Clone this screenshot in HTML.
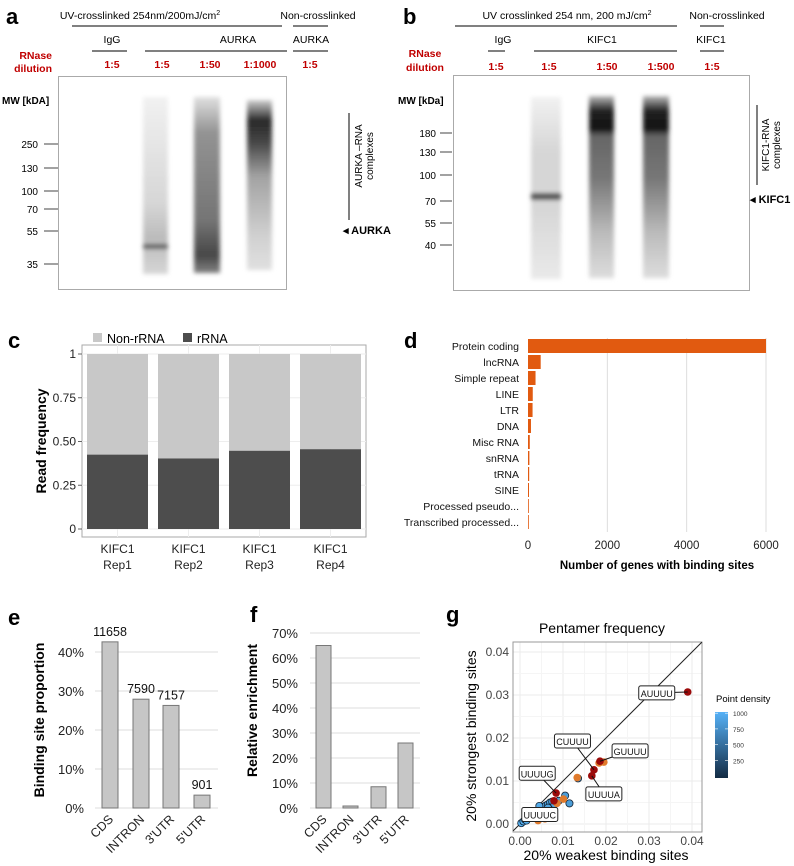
<!DOCTYPE html>
<html><head><meta charset="utf-8">
<style>
html,body{margin:0;padding:0;background:#fff;}
svg{display:block;font-family:"Liberation Sans",Arial,sans-serif;}
</style></head>
<body>
<svg id="fig" width="794" height="866" viewBox="0 0 794 866" xmlns="http://www.w3.org/2000/svg">
<defs>
<filter id="blur" x="-30%" y="-10%" width="160%" height="120%"><feGaussianBlur stdDeviation="2.2"/></filter>
<linearGradient id="laneA1" x1="0" y1="0" x2="0" y2="1">
<stop offset="0" stop-color="#eee"/><stop offset="0.6" stop-color="#ccc"/><stop offset="0.8" stop-color="#aaa"/><stop offset="1" stop-color="#ccc"/></linearGradient>
<linearGradient id="laneA2" x1="0" y1="0" x2="0" y2="1">
<stop offset="0" stop-color="#ddd"/><stop offset="0.2" stop-color="#888"/><stop offset="0.7" stop-color="#666"/><stop offset="0.9" stop-color="#333"/><stop offset="1" stop-color="#777"/></linearGradient>
<linearGradient id="laneA3" x1="0" y1="0" x2="0" y2="1">
<stop offset="0" stop-color="#ccc"/><stop offset="0.12" stop-color="#111"/><stop offset="0.25" stop-color="#333"/><stop offset="0.45" stop-color="#999"/><stop offset="0.8" stop-color="#ccc"/><stop offset="1" stop-color="#ddd"/></linearGradient>
<linearGradient id="laneB1" x1="0" y1="0" x2="0" y2="1">
<stop offset="0" stop-color="#eee"/><stop offset="0.3" stop-color="#ccc"/><stop offset="0.6" stop-color="#ccc"/><stop offset="1" stop-color="#e4e4e4"/></linearGradient>
<linearGradient id="laneB2" x1="0" y1="0" x2="0" y2="1">
<stop offset="0" stop-color="#bbb"/><stop offset="0.08" stop-color="#222"/><stop offset="0.18" stop-color="#111"/><stop offset="0.22" stop-color="#666"/><stop offset="0.45" stop-color="#777"/><stop offset="0.75" stop-color="#bbb"/><stop offset="1" stop-color="#ddd"/></linearGradient>
</defs>

<!-- Panel a -->
<g>
<text x="6" y="24" font-size="22" font-weight="bold">a</text>
<text x="140" y="19" font-size="10.5" text-anchor="middle">UV-crosslinked 254nm/200mJ/cm<tspan dy="-4" font-size="7">2</tspan></text>
<text x="318" y="19" font-size="10.5" text-anchor="middle">Non-crosslinked</text>
<line x1="72" y1="26" x2="282" y2="26" stroke="#000"/>
<line x1="293" y1="26" x2="328" y2="26" stroke="#000"/>
<text x="112" y="43" font-size="10.5" text-anchor="middle">IgG</text>
<text x="238" y="43" font-size="10.5" text-anchor="middle">AURKA</text>
<text x="311" y="43" font-size="10.5" text-anchor="middle">AURKA</text>
<line x1="92" y1="51" x2="127" y2="51" stroke="#555" stroke-width="1.5"/>
<line x1="145" y1="51" x2="287" y2="51" stroke="#000"/>
<line x1="293" y1="51" x2="328" y2="51" stroke="#000"/>
<g fill="#c00000" font-weight="bold" font-size="10.5">
<text x="52" y="59" text-anchor="end">RNase</text><text x="52" y="72" text-anchor="end">dilution</text>
<text x="112" y="68" text-anchor="middle">1:5</text><text x="162" y="68" text-anchor="middle">1:5</text><text x="210" y="68" text-anchor="middle">1:50</text><text x="260" y="68" text-anchor="middle">1:1000</text><text x="310" y="68" text-anchor="middle">1:5</text>
</g>
<rect x="58.5" y="76.5" width="228" height="213" fill="#fff" stroke="#aaa"/>
<text x="2" y="104" font-size="10" font-weight="bold">MW [kDA]</text>
<g font-size="10" text-anchor="end">
<text x="38" y="148">250</text><line x1="44" y1="144" x2="58" y2="144" stroke="#444"/>
<text x="38" y="172">130</text><line x1="44" y1="168" x2="58" y2="168" stroke="#444"/>
<text x="38" y="195">100</text><line x1="44" y1="191" x2="58" y2="191" stroke="#444"/>
<text x="38" y="213">70</text><line x1="44" y1="209" x2="58" y2="209" stroke="#444"/>
<text x="38" y="235">55</text><line x1="44" y1="231" x2="58" y2="231" stroke="#444"/>
<text x="38" y="268">35</text><line x1="44" y1="264" x2="58" y2="264" stroke="#444"/>
</g>
<g filter="url(#blur)">
<rect x="143" y="97" width="25" height="177" fill="url(#laneA1)" opacity="0.8"/>
<rect x="143" y="244" width="25" height="5" fill="#666"/>
<rect x="194" y="97" width="26" height="176" fill="url(#laneA2)" opacity="0.9"/>
<rect x="247" y="100" width="25" height="170" fill="url(#laneA3)" opacity="0.9"/>
</g>
<line x1="349" y1="113" x2="349" y2="220" stroke="#000"/>
<text transform="translate(362,156) rotate(-90)" font-size="10" text-anchor="middle">AURKA –RNA</text>
<text transform="translate(373,156) rotate(-90)" font-size="10" text-anchor="middle">complexes</text>
<text x="343" y="234" font-size="11" font-weight="bold">◂ AURKA</text>
</g>

<!-- Panel b -->
<g>
<text x="403" y="24" font-size="22" font-weight="bold">b</text>
<text x="567" y="19" font-size="10.5" text-anchor="middle">UV crosslinked 254 nm, 200 mJ/cm<tspan dy="-4" font-size="7">2</tspan></text>
<text x="727" y="19" font-size="10.5" text-anchor="middle">Non-crosslinked</text>
<line x1="455" y1="26" x2="677" y2="26" stroke="#000"/>
<line x1="700" y1="26" x2="724" y2="26" stroke="#000"/>
<text x="503" y="43" font-size="10.5" text-anchor="middle">IgG</text>
<text x="602" y="43" font-size="10.5" text-anchor="middle">KIFC1</text>
<text x="711" y="43" font-size="10.5" text-anchor="middle">KIFC1</text>
<line x1="488" y1="51" x2="505" y2="51" stroke="#000"/>
<line x1="534" y1="51" x2="677" y2="51" stroke="#000"/>
<line x1="700" y1="51" x2="724" y2="51" stroke="#000"/>
<g fill="#c00000" font-weight="bold" font-size="10.5">
<text x="425" y="57" text-anchor="middle">RNase</text><text x="425" y="71" text-anchor="middle">dilution</text>
<text x="496" y="70" text-anchor="middle">1:5</text><text x="549" y="70" text-anchor="middle">1:5</text><text x="607" y="70" text-anchor="middle">1:50</text><text x="661" y="70" text-anchor="middle">1:500</text><text x="712" y="70" text-anchor="middle">1:5</text>
</g>
<rect x="453.5" y="75.5" width="296" height="215" fill="#fff" stroke="#aaa"/>
<text x="398" y="104" font-size="10" font-weight="bold">MW [kDa]</text>
<g font-size="10" text-anchor="end">
<text x="436" y="137">180</text><line x1="440" y1="133" x2="452" y2="133" stroke="#444"/>
<text x="436" y="156">130</text><line x1="440" y1="152" x2="452" y2="152" stroke="#444"/>
<text x="436" y="179">100</text><line x1="440" y1="175" x2="452" y2="175" stroke="#444"/>
<text x="436" y="205">70</text><line x1="440" y1="201" x2="452" y2="201" stroke="#444"/>
<text x="436" y="227">55</text><line x1="440" y1="223" x2="452" y2="223" stroke="#444"/>
<text x="436" y="249">40</text><line x1="440" y1="245" x2="452" y2="245" stroke="#444"/>
</g>
<g filter="url(#blur)">
<rect x="531" y="97" width="30" height="182" fill="url(#laneB1)" opacity="0.8"/>
<rect x="531" y="193" width="30" height="7" fill="#555"/>
<rect x="589" y="96" width="25" height="182" fill="url(#laneB2)"/>
<rect x="643" y="96" width="26" height="182" fill="url(#laneB2)"/>
</g>
<line x1="757" y1="105" x2="757" y2="185" stroke="#000"/>
<text transform="translate(769,145) rotate(-90)" font-size="10" text-anchor="middle">KIFC1-RNA</text>
<text transform="translate(780,145) rotate(-90)" font-size="10" text-anchor="middle">complexes</text>
<text x="750" y="203" font-size="11" font-weight="bold">◂ KIFC1</text>
</g>

<text x="8" y="348" font-size="22" font-weight="bold">c</text>
<text x="404" y="348" font-size="22" font-weight="bold">d</text>
<text x="8" y="625" font-size="22" font-weight="bold">e</text>
<text x="250" y="622" font-size="22" font-weight="bold">f</text>
<text x="446" y="622" font-size="22" font-weight="bold">g</text>
<g id="charts"></g>
</svg>
<script>
// ---- Panel c data ----
const cReps = ["Rep1","Rep2","Rep3","Rep4"];
const cRRNA = [0.425,0.403,0.447,0.456];
const cTicks = [0,0.25,0.5,0.75,1];
const cTickLabels = ["0","0.25","0.50","0.75","1"];
// ---- Panel d data ----
const dCats = ["Protein coding","lncRNA","Simple repeat","LINE","LTR","DNA","Misc RNA","snRNA","tRNA","SINE","Processed pseudo...","Transcribed processed..."];
const dVals = [6000,320,190,120,115,75,45,35,30,25,15,8];
const dTicks = [0,2000,4000,6000];
// ---- Panel e data ----
const eCats = ["CDS","INTRON","3'UTR","5'UTR"];
const eVals = [42.6,27.9,26.3,3.3];
const eCounts = ["11658","7590","7157","901"];
const eTicks = [0,10,20,30,40];
// ---- Panel f data ----
const fCats = ["CDS","INTRON","3'UTR","5'UTR"];
const fVals = [65,0.8,8.5,26];
const fTicks = [0,10,20,30,40,50,60,70];
// ---- Panel g data ----
const gBlueX = [0.0003,0.0008,0.0012,0.0016,0.002,0.0024,0.0028,0.0032,0.0036,0.004,0.0045,0.005,0.0055,0.006,0.0065,0.007,0.0075,0.009,0.0105,0.0115,0.0135,0.0015,0.0025,0.0035,0.005,0.006,0.0045,0.0065,0.008];
const gBlueY = [0.0002,0.0006,0.001,0.0012,0.0016,0.002,0.0022,0.0025,0.0028,0.003,0.0034,0.0036,0.004,0.0043,0.0046,0.005,0.0052,0.0054,0.0066,0.0048,0.0106,0.0008,0.0014,0.0018,0.0028,0.0032,0.0042,0.0038,0.0046];
const gBlueDen = [1000,1000,1000,1000,1000,1000,1000,950,950,950,950,900,900,900,900,900,900,850,850,850,800,1000,1000,1000,950,950,950,900,900];
const gOrX = [0.0042,0.0058,0.0086,0.0101,0.0133,0.0184,0.0195];
const gOrY = [0.0008,0.0012,0.0048,0.0058,0.0108,0.0142,0.0144];
const gRedX = [0.0079,0.0084,0.0167,0.0172,0.0186,0.039];
const gRedY = [0.0054,0.0072,0.0112,0.0126,0.0146,0.0307];
const gLabels = ["AUUUU","GUUUU","CUUUU","UUUUA","UUUUG","UUUUC"];
const gLabelX = [0.0318,0.0256,0.0122,0.0195,0.0040,0.0046];
const gLabelY = [0.0305,0.0170,0.0193,0.0070,0.0118,0.0022];
const gPtX = [0.039,0.0186,0.0172,0.0167,0.0084,0.0050];
const gPtY = [0.0307,0.0146,0.0126,0.0112,0.0072,0.0034];
const gTicks = [0,0.01,0.02,0.03,0.04];
const gTickLabels = ["0.00","0.01","0.02","0.03","0.04"];
const gLegTicks = [250,500,750,1000];

const NS="http://www.w3.org/2000/svg";
const root=document.getElementById('charts');
function mk(tag,attrs,parent,txt){const e=document.createElementNS(NS,tag);for(const k in attrs)e.setAttribute(k,attrs[k]);if(txt!==undefined)e.textContent=txt;(parent||root).appendChild(e);return e;}

// ===== Panel c =====
(function(){
const g=mk('g',{});


const L=82,R=366,T=345,B=537;
const y=v=>529-v*175;
mk('rect',{x:L,y:T,width:R-L,height:B-T,fill:'#fff',stroke:'#aaa'},g);
cTicks.forEach((t,i)=>{
 mk('line',{x1:L,x2:R,y1:y(t),y2:y(t),stroke:'#eee'},g);
 mk('line',{x1:L-4,x2:L,y1:y(t),y2:y(t),stroke:'#666'},g);
 const tx=mk('text',{x:L-6,y:y(t)+4,'font-size':12,'text-anchor':'end',fill:'#222'},g,cTickLabels[i]);
 
 
});
const bw=61, step=(R-L)/cReps.length;
cReps.forEach((r,i)=>{
 const cx=L+step*(i+0.5);
 mk('line',{x1:cx,x2:cx,y1:T,y2:B,stroke:'#eee'},g);
 const nb=mk('rect',{x:cx-bw/2,y:y(1),width:bw,height:y(cRRNA[i])-y(1),fill:'#c8c8c8'},g);
 
 
 const rb=mk('rect',{x:cx-bw/2,y:y(cRRNA[i]),width:bw,height:y(0)-y(cRRNA[i]),fill:'#4d4d4d'},g);
 
 
 mk('text',{x:cx,y:553,'font-size':12,'text-anchor':'middle',fill:'#222'},g,'KIFC1');
 mk('text',{x:cx,y:569,'font-size':12,'text-anchor':'middle',fill:'#222'},g,r);
});
const yt=mk('text',{transform:'translate(46,441) rotate(-90)','font-size':14,'font-weight':'bold','text-anchor':'middle'},g,'Read frequency');


const lg=mk('g',{},g);


mk('rect',{x:93,y:333,width:9,height:9,fill:'#c8c8c8'},lg);
mk('text',{x:107,y:343,'font-size':12.5},lg,'Non-rRNA');
mk('rect',{x:183,y:333,width:9,height:9,fill:'#4d4d4d'},lg);
mk('text',{x:197,y:343,'font-size':12.5},lg,'rRNA');
})();

// ===== Panel d =====
(function(){
const g=mk('g',{});


const x=v=>528+v*(238/6000);
dTicks.forEach(t=>{
 if(t>0) mk('line',{x1:x(t),x2:x(t),y1:338,y2:532,stroke:'#ddd'},g);
 const tx=mk('text',{x:x(t),y:549,'font-size':11.5,'text-anchor':'middle',fill:'#222'},g,String(t));
 
 
});
dCats.forEach((c,i)=>{
 const cy=346+i*16;
 const b=mk('rect',{x:528,y:cy-7,width:Math.max(x(dVals[i])-528,0.8),height:14,fill:'#e15a10'},g);
 
 
 mk('text',{x:519,y:cy+4,'font-size':10.5,'text-anchor':'end',fill:'#111'},g,c);
});
const t=mk('text',{x:657,y:569,'font-size':11.5,'font-weight':'bold','text-anchor':'middle'},g,'Number of genes with binding sites');


})();

// ===== Panel e / f =====
function barPanel(name,cats,vals,ticks,y0,pxPer,barX,bw,gx1,gx2,tickX,titleX,title,counts){
const g=mk('g',{});


const y=v=>y0-v*pxPer;
ticks.forEach(t=>{
 mk('line',{x1:gx1,x2:gx2,y1:y(t),y2:y(t),stroke:'#ddd'},g);
 const tx=mk('text',{x:tickX,y:y(t)+5,'font-size':13,'text-anchor':'end',fill:'#222'},g,t+'%');
 
 
});
cats.forEach((c,i)=>{
 const b=mk('rect',{x:barX[i],y:y(vals[i]),width:bw,height:y(0)-y(vals[i]),fill:'#c6c6c6',stroke:'#777','stroke-width':1},g);
 
 
 const cx=barX[i]+bw/2;
 mk('text',{transform:`translate(${cx+4},${y0+12}) rotate(-45)`,'font-size':12.5,'text-anchor':'end',fill:'#222'},g,c);
 if(counts){mk('text',{x:cx,y:y(vals[i])-6,'font-size':12.5,'text-anchor':'middle',fill:'#111'},g,counts[i]);}
});
const tt=mk('text',{transform:`translate(${titleX},${y0-(ticks[ticks.length-1]*pxPer)/2-10}) rotate(-90)`,'font-size':14,'font-weight':'bold','text-anchor':'middle'},g,title);


}
barPanel('panel-e-chart',eCats,eVals,eTicks,808,3.9,[102,133,163,194],16,95,218,84,44,'Binding site proportion',eCounts);
barPanel('panel-f-chart',fCats,fVals,fTicks,808,2.5,[316,343,371,398],15,310,420,298,257,'Relative enrichment',null);

// ===== Panel g =====
(function(){
const g=mk('g',{});


const x=v=>520+v*4300, y=v=>824-v*4300;
const L=513,R=702,T=642,B=832;
mk('rect',{x:L,y:T,width:R-L,height:B-T,fill:'#fff'},g);
gTicks.forEach((t,i)=>{
 mk('line',{x1:x(t),x2:x(t),y1:T,y2:B,stroke:'#ebebeb'},g);
 mk('line',{x1:L,x2:R,y1:y(t),y2:y(t),stroke:'#ebebeb'},g);
 if(i<4){mk('line',{x1:x(t+0.005),x2:x(t+0.005),y1:T,y2:B,stroke:'#f5f5f5'},g);mk('line',{x1:L,x2:R,y1:y(t+0.005),y2:y(t+0.005),stroke:'#f5f5f5'},g);}
 const a=mk('text',{x:x(t),y:B+13,'font-size':12,'text-anchor':'middle',fill:'#444'},g,gTickLabels[i]);
 
 
 const b=mk('text',{x:L-4,y:y(t)+4,'font-size':12,'text-anchor':'end',fill:'#444'},g,gTickLabels[i]);
 
 
});
mk('rect',{x:L,y:T,width:R-L,height:B-T,fill:'none',stroke:'#999'},g);
const d=mk('line',{x1:x(-0.0016),y1:y(-0.0016),x2:x(0.0423),y2:y(0.0423),stroke:'#222'},g);


function blue(v){const t=v/1000;const r=Math.round(19+t*(86-19)),gg=Math.round(43+t*(177-43)),bb=Math.round(67+t*(241-67));return `rgb(${r},${gg},${bb})`;}
gBlueX.forEach((vx,i)=>{
 const c=mk('circle',{cx:x(vx),cy:y(gBlueY[i]),r:3.6,fill:blue(gBlueDen[i]),stroke:'#123','stroke-width':0.8},g);
 
 
});
gOrX.forEach((vx,i)=>{
 const c=mk('circle',{cx:x(vx),cy:y(gOrY[i]),r:3.8,fill:'#e07a2c'},g);
 
 
});
gRedX.forEach((vx,i)=>{
 const c=mk('circle',{cx:x(vx),cy:y(gRedY[i]),r:3.8,fill:'#9b0a0a'},g);
 
 
});
gLabels.forEach((l,i)=>{
 const lx=x(gLabelX[i]),ly=y(gLabelY[i]);
 mk('line',{x1:lx,y1:ly,x2:x(gPtX[i]),y2:y(gPtY[i]),stroke:'#111'},g);
 const w=36;
 const r=mk('rect',{x:lx-w/2,y:ly-7,width:w,height:14,rx:2,fill:'#fff',stroke:'#222'},g);
 
 
 mk('text',{x:lx,y:ly+4,'font-size':9,'text-anchor':'middle',fill:'#111'},g,l);
});
const ti=mk('text',{x:602,y:633,'font-size':14,'text-anchor':'middle'},g,'Pentamer frequency');


const xt=mk('text',{x:606,y:860,'font-size':14,'text-anchor':'middle'},g,'20% weakest binding sites');


const yt=mk('text',{transform:'translate(476,736) rotate(-90)','font-size':14,'text-anchor':'middle'},g,'20% strongest binding sites');


const lg=mk('g',{},g);


mk('text',{x:716,y:702,'font-size':9.5},lg,'Point density');
const grad=mk('linearGradient',{id:'denGrad',x1:0,y1:1,x2:0,y2:0},lg);
mk('stop',{offset:0,'stop-color':'#132b43'},grad);mk('stop',{offset:1,'stop-color':'#56b1f7'},grad);
mk('rect',{x:715,y:712,width:13,height:66,fill:'url(#denGrad)'},lg);
const ly=v=>776-v*0.0628;
gLegTicks.forEach(t=>{
 mk('line',{x1:715,x2:718,y1:ly(t),y2:ly(t),stroke:'#fff','stroke-width':0.6},lg);
 mk('line',{x1:725,x2:728,y1:ly(t),y2:ly(t),stroke:'#fff','stroke-width':0.6},lg);
 mk('text',{x:733,y:ly(t)+3,'font-size':6.5,fill:'#333'},lg,String(t));
});
})();
</script>
</body></html>
